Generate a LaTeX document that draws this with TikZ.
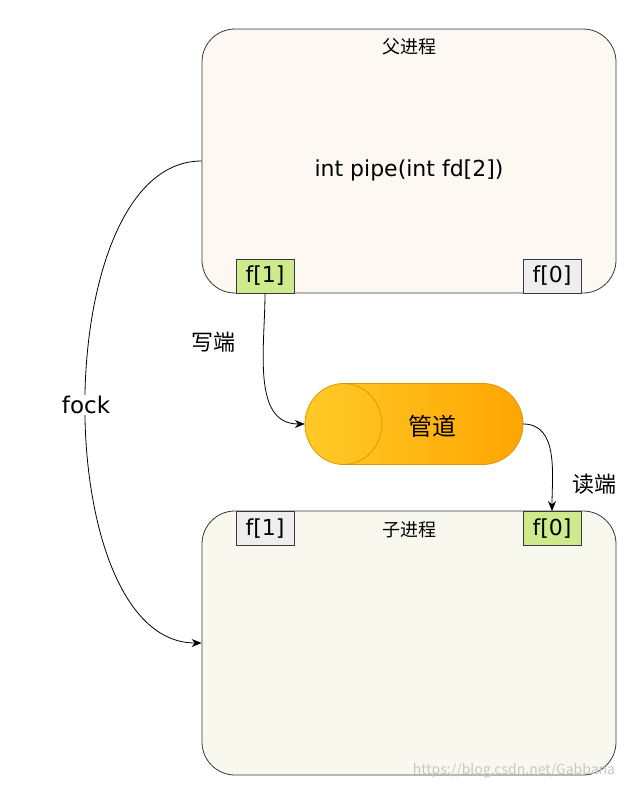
\documentclass[tikz,border=0pt]{standalone}
\usepackage{fontspec}
\setmainfont{Noto Sans CJK SC}
\newfontfamily\latinfont{DejaVu Sans}
\usetikzlibrary{arrows.meta,shadings}
\definecolor{parentfill}{HTML}{FDF8F1}
\definecolor{childfill}{HTML}{F9F8EF}
\definecolor{edge}{HTML}{36393D}
\definecolor{greenfill}{HTML}{CDEB8B}
\definecolor{greyfill}{HTML}{EEEEEE}
\definecolor{pipeA}{HTML}{FFCA28}
\definecolor{pipeB}{HTML}{FFA500}
\definecolor{pipeline}{HTML}{D79B00}
\tikzset{
  procbox/.style={draw=edge, line width=0.8pt, rounded corners=33pt, minimum width=414pt, minimum height=264pt, inner sep=0pt},
  fdbox/.style={draw=edge, line width=0.8pt, minimum width=58pt, minimum height=34pt, inner sep=0pt, font=\latinfont\fontsize{22}{26}\selectfont},
  lbl/.style={inner sep=1pt},
  conn/.style={draw=black, line width=0.8pt, -{Stealth[length=10pt,width=8pt]}}
}
\begin{document}
\begin{tikzpicture}[x=1pt,y=-1pt]
\useasboundingbox[fill=white] (0,0) rectangle (629,790);
% process boxes
\node[procbox, fill=parentfill] (parent) at (409,161) {};
\node[procbox, fill=childfill] (child) at (409,643) {};
\node[lbl, font=\fontsize{18}{22}\selectfont] (ptitle) at (409,47) {父进程};
\node[lbl, font=\latinfont\fontsize{22}{26}\selectfont] (pipecall) at (409,170) {int pipe(int fd[2])};
\node[lbl, font=\fontsize{18}{22}\selectfont] (ctitle) at (409,530) {子进程};
% fd boxes
\node[fdbox, fill=greenfill] (pf1) at (265,276) {f[1]};
\node[fdbox, fill=greyfill] (pf0) at (552,276) {f[0]};
\node[fdbox, fill=greyfill] (cf1) at (265,528.5) {f[1]};
\node[fdbox, fill=greenfill] (cf0) at (552,528.5) {f[0]};
% pipe
\node[minimum width=218pt, minimum height=81pt, inner sep=0pt] (pipe) at (414,424) {};
\path[left color=pipeA, right color=pipeB, draw=pipeline, line width=0.8pt]
  (343.5,383.5) -- (483,383.5) arc[start angle=-90,end angle=90,x radius=40,y radius=40.5]
  -- (343.5,464.5) arc[start angle=90,end angle=270,x radius=38.5,y radius=40.5] -- cycle;
\draw[pipeline, line width=0.8pt] (343.5,383.5) arc[start angle=-90,end angle=90,x radius=38.5,y radius=40.5];
\node[lbl, font=\fontsize{24}{28}\selectfont] (pipetext) at (432,426) {管道};
% connectors
\draw[conn] (pf1.south) to[out=-90,in=180] (pipe.west);
\draw[conn] (pipe.east) to[out=0,in=90] (cf0.north);
\draw[conn] (parent.west) .. controls (47,161) and (47,643) .. (child.west);
\node[lbl, fill=white, font=\latinfont\fontsize{23}{27}\selectfont] (fock) at (86,405) {fock};
\node[lbl, font=\fontsize{22}{26}\selectfont] (write) at (213,342) {写端};
\node[lbl, font=\fontsize{22}{26}\selectfont] (read) at (594,484) {读端};
\node[inner sep=0pt, text=black!22, font=\fontsize{14}{16}\selectfont] (wm) at (514,771) {https://blog.csdn.net/Gabbana};
\end{tikzpicture}
\end{document}
